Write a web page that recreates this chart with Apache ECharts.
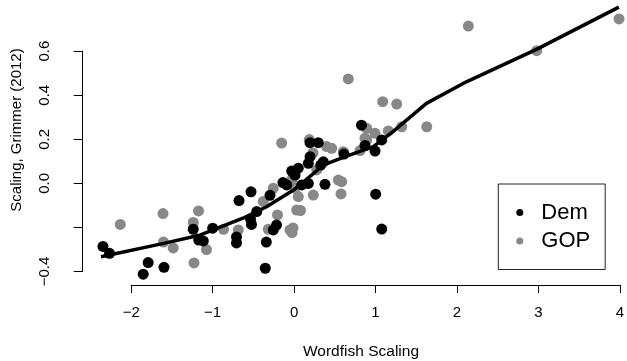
<!DOCTYPE html>
<html>
<head>
<meta charset="utf-8">
<script src="https://cdn.jsdelivr.net/npm/echarts@6/dist/echarts.min.js"></script>
<style>
  html, body { margin: 0; padding: 0; background: #fff; }
  #chart { width: 627px; height: 361px; }
</style>
</head>
<body>
<div id="chart"></div>
<script>
// --- Data ---
const demX = [-2.346, -2.266, -1.792, -1.598, -1.853, -1.239, -1.172, -1.116, -1.001, -0.678,
              -0.709, -0.709, -0.531, -0.461, -0.537, -0.525, -0.298, -0.343, -0.356, -0.258,
              -0.218, -0.139, -0.032, 0.009, 0.049, 0.091, 0.172, 0.172, 0.193, 0.294,
              0.356, 0.324, 0.376, 0.824, 0.867, 0.990, 1.072, 0.998, 1.072, -0.093,
              0.193, 0.609];
const demY = [-0.286, -0.317, -0.359, -0.381, -0.412, -0.208, -0.257, -0.261, -0.203, -0.078,
              -0.243, -0.270, -0.038, -0.128, -0.162, -0.186, -0.054, -0.266, -0.385, -0.211,
              -0.189, 0.004, 0.056, 0.038, 0.069, -0.007, 0.000, 0.091, 0.185, 0.185,
              0.098, 0.083, -0.004, 0.264, 0.172, 0.147, 0.197, -0.049, -0.207, -0.007,
              0.121, 0.133];

const gopX = [-2.134, -1.610, -1.175, -1.239, -1.604, -1.485, -1.077, -1.230, -0.868, -0.687,
              -0.380, -0.319, -0.258, -0.206, -0.053, -0.028, -0.016, 0.009, -0.012, 0.049,
              0.076, 0.233, -0.155, 0.184, 0.397, 0.459, 0.275, 0.601, 0.540, 0.581,
              0.573, 0.662, 0.867, 0.806, 0.888, 0.990, 0.888, 1.153, 1.084, 1.256,
              1.317, 1.624, 2.134, 2.972, 3.982, 0.029, -0.032, 0.229];
const gopY = [-0.186, -0.137, -0.125, -0.177, -0.266, -0.293, -0.300, -0.361, -0.208, -0.211,
              -0.082, -0.208, -0.022, -0.143, -0.211, -0.223, -0.202, -0.022, 0.038, -0.060,
              -0.123, -0.053, 0.183, 0.199, 0.167, 0.159, 0.061, 0.144, 0.015, 0.008,
              -0.048, 0.474, 0.205, 0.149, 0.250, 0.227, 0.197, 0.238, 0.371, 0.360,
              0.257, 0.257, 0.714, 0.602, 0.746, -0.121, 0.015, 0.138];

// lowess fit
const lowX = [-2.37, -1.6, -1.15, -0.63, -0.34, -0.01, 0.07, 0.36, 0.65, 0.97, 1.21, 1.62, 2.11, 2.97, 3.98];
const lowY = [-0.333, -0.272, -0.234, -0.158, -0.106, -0.03, -0.007, 0.084, 0.125, 0.167, 0.235, 0.363, 0.461, 0.608, 0.80];

const xTicks = { min: -2, max: 4, step: 1 };
const yTicks = { min: -0.4, max: 0.6, step: 0.2, skip: [-0.2] };

// --- Layout calibration (pixels) ---
const W = 627;
const axisLeft = 82.7, axisBottom = 285;        // where R drew its axes
const x0px = 294.3, xUnit = 81.55;              // px of x=0, px per unit
const y0px = 183.4, yUnit = 220.4;              // px of y=0, px per unit
const pxToX = px => (px - x0px) / xUnit;
const pxToY = py => (y0px - py) / yUnit;

const zip = (xs, ys) => xs.map((x, i) => [x, ys[i]]);
const FONT = 'Liberation Sans, Arial, sans-serif';
const fmt = v => {
    const r = Math.round(v * 10) / 10;
    if (yTicks.skip.some(s => Math.abs(s - r) < 1e-9)) return '';
    return r.toFixed(1).replace('-', '\u2212');
};

const chart = echarts.init(document.getElementById('chart'), null, { renderer: 'canvas' });

chart.setOption({
    animation: false,
    backgroundColor: '#fff',
    grid: [
        // data plotting region
        { left: axisLeft, top: 0, width: W - axisLeft, height: axisBottom },
        // x axis drawn only from -2 to 4
        { left: x0px + xTicks.min * xUnit, top: 0, width: (xTicks.max - xTicks.min) * xUnit, height: axisBottom },
        // y axis drawn only from -0.4 to 0.6
        { left: axisLeft, top: y0px - yTicks.max * yUnit, width: 10, height: (yTicks.max - yTicks.min) * yUnit }
    ],
    xAxis: [
        { gridIndex: 0, type: 'value', min: pxToX(axisLeft), max: pxToX(W), show: false },
        {
            gridIndex: 1, type: 'value', min: xTicks.min, max: xTicks.max, interval: xTicks.step,
            axisLine: { show: true, lineStyle: { color: '#000', width: 1 } },
            axisTick: { show: true, length: 8, lineStyle: { color: '#000' } },
            axisLabel: { margin: 20, fontSize: 15, fontFamily: FONT, color: '#000',
                         formatter: v => String(Math.round(v)).replace('-', '\u2212') },
            splitLine: { show: false }
        },
        { gridIndex: 2, type: 'value', min: 0, max: 1, show: false }
    ],
    yAxis: [
        { gridIndex: 0, type: 'value', min: pxToY(axisBottom), max: pxToY(0), show: false },
        { gridIndex: 1, type: 'value', min: 0, max: 1, show: false },
        {
            gridIndex: 2, type: 'value', min: yTicks.min, max: yTicks.max, interval: yTicks.step,
            axisLine: { show: true, lineStyle: { color: '#000', width: 1 } },
            axisTick: { show: true, length: 9, lineStyle: { color: '#000' } },
            axisLabel: { margin: 30, rotate: 90, fontSize: 15, fontFamily: FONT, color: '#000', formatter: fmt },
            splitLine: { show: false }
        }
    ],
    legend: {
        orient: 'vertical',
        left: 498.3, top: 184,
        padding: [17.5, 15, 17.5, 18],
        itemGap: 6.5,
        itemWidth: 7, itemHeight: 7,
        itemStyle: { borderWidth: 0 },
        icon: 'circle',
        borderColor: '#222', borderWidth: 1,
        textStyle: { fontSize: 22, fontFamily: FONT, color: '#000', padding: [0, 0, 0, 13] },
        data: ['Dem', 'GOP']
    },
    graphic: [
        { type: 'text', x: 361, y: 352, style: { text: 'Wordfish Scaling', font: '15.5px ' + FONT, fill: '#000', align: 'center', verticalAlign: 'middle' } },
        { type: 'text', x: 17, y: 130, rotation: Math.PI / 2, style: { text: 'Scaling, Grimmer (2012)', font: '15px ' + FONT, fill: '#000', align: 'center', verticalAlign: 'middle' } }
    ],
    series: [
        { name: 'GOP', type: 'scatter', xAxisIndex: 0, yAxisIndex: 0, symbolSize: 11,
          itemStyle: { color: '#888888', opacity: 1 }, data: zip(gopX, gopY) },
        { name: 'Dem', type: 'scatter', xAxisIndex: 0, yAxisIndex: 0, symbolSize: 11,
          itemStyle: { color: '#000000', opacity: 1 }, data: zip(demX, demY) },
        { name: 'lowess', type: 'line', xAxisIndex: 0, yAxisIndex: 0, showSymbol: false, symbol: 'none',
          smooth: false, lineStyle: { color: '#000', width: 3.5 }, z: 5, data: zip(lowX, lowY) }
    ]
});
</script>
</body>
</html>
